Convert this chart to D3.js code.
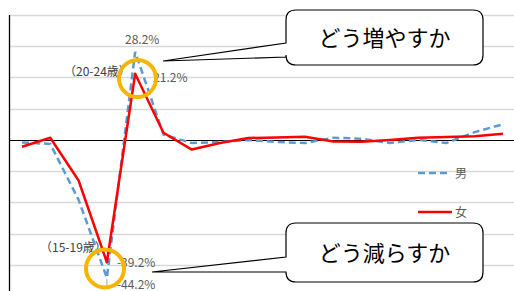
<!DOCTYPE html>
<html>
<head>
<meta charset="utf-8">
<script src="https://cdn.jsdelivr.net/npm/d3@7"></script>
<style>
  body { margin: 0; background: #fff; }
  svg { display: block; font-family: "Noto Sans CJK JP", "Noto Sans", sans-serif; }
</style>
</head>
<body>
<div id="paper"></div>
<script>
// age groups, 0-4 .. 85-89
const ages = ["0-4", "5-9", "10-14", "15-19", "20-24", "25-29", "30-34", "35-39", "40-44",
  "45-49", "50-54", "55-59", "60-64", "65-69", "70-74", "75-79", "80-84", "85-89"];

// change rate in %
const male = [-0.8, -1.3, -19.2, -44.2, 28.2, 1.7, -1.0, -0.7, 0.0, -0.7, -1.0, 0.7, 0.4, -1.0, 0.0, -1.0, 2.5, 5.0];
const female = [-2.2, 0.7, -13.0, -39.2, 21.2, 2.3, -3.1, -1.0, 0.6, 0.8, 1.0, -0.5, -0.6, 0.0, 0.7, 0.9, 1.2, 2.0];

const yTicks = [-40, -30, -20, -10, 10, 20, 30, 40];

const W = 514, H = 291;
const colMale = "#5B9BD5", colFemale = "#FF0000", colRing = "#F7B500";

const svg = d3.select("#paper").append("svg")
  .attr("width", W).attr("height", H);

const x = d3.scalePoint().domain(ages).range([22, 503]);
const y = d3.scaleLinear().domain([-50, 40]).range([296, 15]);

// gridlines
svg.append("g").selectAll("line").data(yTicks).join("line")
  .attr("x1", 10).attr("x2", W)
  .attr("y1", d => Math.round(y(d)) + 0.5).attr("y2", d => Math.round(y(d)) + 0.5)
  .attr("stroke", "#D9D9D9").attr("stroke-width", 1.3);

// zero line and y axis
svg.append("line").attr("x1", 10).attr("x2", W)
  .attr("y1", Math.round(y(0)) + 0.5).attr("y2", Math.round(y(0)) + 0.5)
  .attr("stroke", "#000").attr("stroke-width", 1);
svg.append("line").attr("x1", 9.5).attr("x2", 9.5)
  .attr("y1", y(40)).attr("y2", H)
  .attr("stroke", "#000").attr("stroke-width", 1.3);

const line = d3.line().x((d, i) => x(ages[i])).y(d => y(d));

svg.append("path").datum(male).attr("d", line)
  .attr("fill", "none").attr("stroke", colMale).attr("stroke-width", 2.5)
  .attr("stroke-dasharray", "7,4");
svg.append("path").datum(female).attr("d", line)
  .attr("fill", "none").attr("stroke", colFemale).attr("stroke-width", 2.5)
  .attr("stroke-linejoin", "round");

// data labels
const lab = svg.append("g").attr("font-size", 12).attr("fill", "#595959");
lab.append("text").attr("x", x("20-24") + 7).attr("y", y(male[4]) - 8)
  .attr("text-anchor", "middle").text(male[4].toFixed(1) + "%");
lab.append("text").attr("x", x("20-24") + 18).attr("y", y(female[4]) + 8)
  .text(female[4].toFixed(1) + "%");
lab.append("text").attr("x", x("15-19") + 10).attr("y", y(female[3]) + 5)
  .text(female[3].toFixed(1) + "%");
lab.append("text").attr("x", x("15-19") + 10).attr("y", y(male[3]) + 11)
  .text(male[3].toFixed(1) + "%");
lab.append("line").attr("x1", x("15-19")).attr("x2", x("15-19"))
  .attr("y1", y(male[3]) + 1).attr("y2", y(male[3]) + 10)
  .attr("stroke", "#A6A6A6").attr("stroke-width", 1);

const ageLab = svg.append("g").attr("font-size", 12).attr("fill", "#404040");
ageLab.append("text").attr("x", 64).attr("y", 76).text("（20-24歳）");
ageLab.append("text").attr("x", 40).attr("y", 252).text("（15-19歳）");

// rings
svg.append("circle").attr("cx", 137.5).attr("cy", 78.5).attr("r", 18.5)
  .attr("fill", "none").attr("stroke", colRing).attr("stroke-width", 4);
svg.append("circle").attr("cx", 105).attr("cy", 268.5).attr("r", 19)
  .attr("fill", "none").attr("stroke", colRing).attr("stroke-width", 4);

// legend
const leg = svg.append("g").attr("font-size", 12).attr("fill", "#595959");
leg.append("line").attr("x1", 418).attr("x2", 447).attr("y1", 173).attr("y2", 173)
  .attr("stroke", colMale).attr("stroke-width", 2.5).attr("stroke-dasharray", "7,4");
leg.append("text").attr("x", 455).attr("y", 177.5).text("男");
leg.append("line").attr("x1", 418).attr("x2", 452).attr("y1", 212).attr("y2", 212)
  .attr("stroke", colFemale).attr("stroke-width", 2.5);
leg.append("text").attr("x", 455).attr("y", 216.5).text("女");

// callouts
function callout(x0, y0, x1, y1, tip, p1, p2, txt) {
  const r = 10;
  const p = d3.path();
  p.moveTo(x0 + r, y0);
  p.lineTo(x1 - r, y0);
  p.quadraticCurveTo(x1, y0, x1, y0 + r);
  p.lineTo(x1, y1 - r);
  p.quadraticCurveTo(x1, y1, x1 - r, y1);
  p.lineTo(x0 + r, y1);
  p.quadraticCurveTo(x0, y1, x0, y1 - r);
  p.lineTo(x0, p2);
  p.lineTo(tip[0], tip[1]);
  p.lineTo(x0, p1);
  p.lineTo(x0, y0 + r);
  p.quadraticCurveTo(x0, y0, x0 + r, y0);
  p.closePath();
  svg.append("path").attr("d", p.toString())
    .attr("fill", "#fff").attr("stroke", "#000").attr("stroke-width", 1.2);
  svg.append("text").attr("x", (x0 + x1) / 2).attr("y", (y0 + y1) / 2 + 8)
    .attr("text-anchor", "middle").attr("font-size", 22).attr("fill", "#000")
    .text(txt);
}
callout(286, 10, 483, 65, [163, 61], 43, 57, "どう増やすか");
callout(286, 223, 483, 282, [152, 272], 257, 272, "どう減らすか");
</script>
</body>
</html>
